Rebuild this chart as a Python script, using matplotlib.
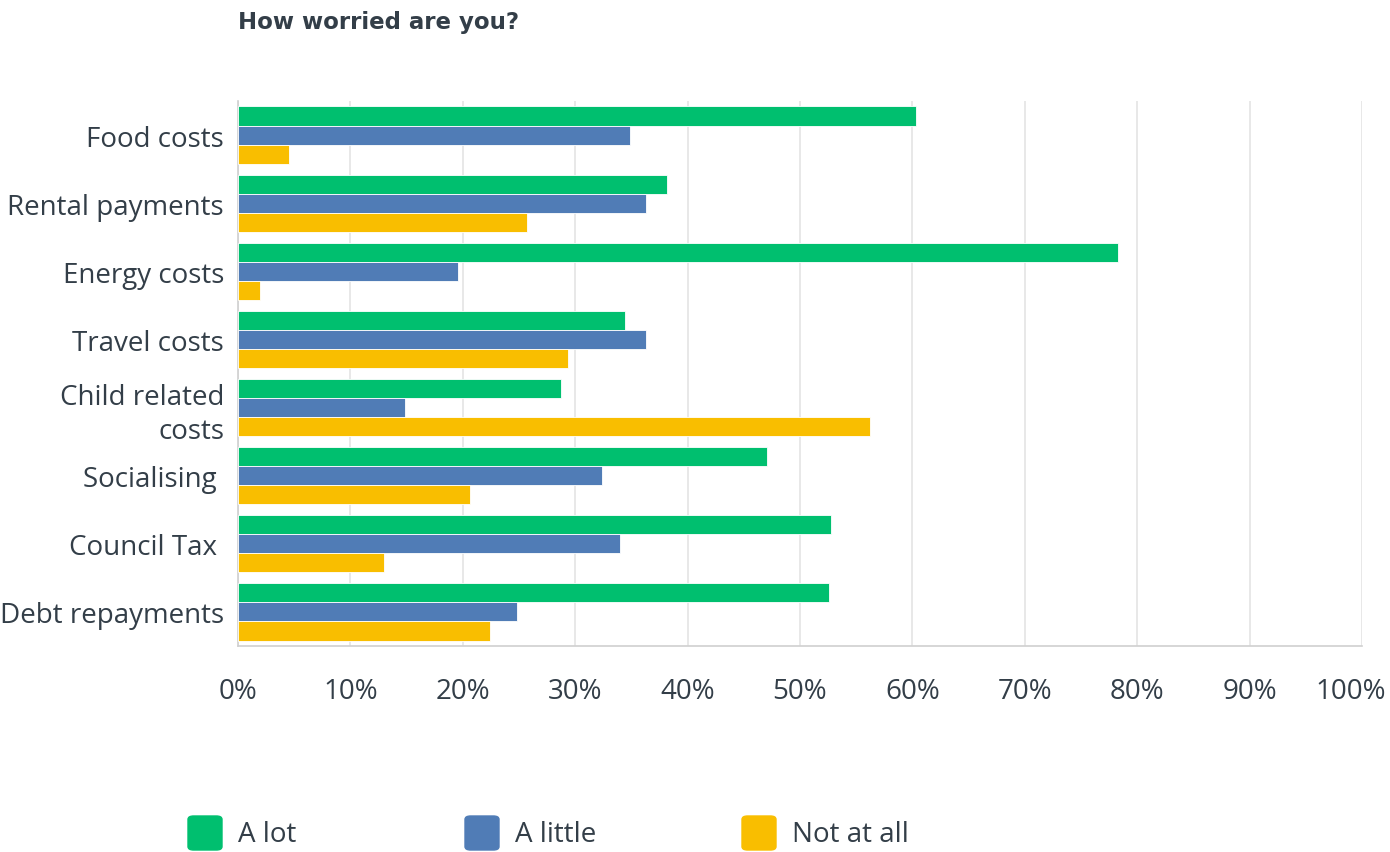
import numpy as np
import matplotlib.pyplot as plt
import matplotlib.transforms as mtransforms
from matplotlib.patches import FancyBboxPatch

plt.rcParams['font.family'] = ['Open Sans', 'DejaVu Sans']

categories = ['Food costs', 'Rental payments', 'Energy costs', 'Travel costs',
              'Child related\ncosts', 'Socialising ', 'Council Tax ', 'Debt repayments']
series_names = ['A lot', 'A little', 'Not at all']
a_lot = [60.3, 38.2, 78.3, 34.4, 28.7, 47.1, 52.8, 52.6]
a_little = [34.9, 36.3, 19.6, 36.3, 14.9, 32.4, 34.0, 24.8]
not_at_all = [4.5, 25.7, 2.0, 29.4, 56.2, 20.6, 13.0, 22.4]
colors = ['#00BF6F', '#507CB6', '#F9BE00']
ticks = np.arange(0, 101, 10)
tick_labels = [f'{t}%' for t in ticks]

text_col = '#333E48'
grid_col = '#E4E4E4'
fs = 20

fig = plt.figure(figsize=(13.9, 8.53), dpi=100)
ax = fig.add_axes([238 / 1390, 1 - 647 / 853, 1124 / 1390, 545 / 853])

y = np.arange(len(categories))
h = 0.28
for k, (vals, col) in enumerate(zip([a_lot, a_little, not_at_all], colors)):
    ax.barh(y + (k - 1) * h, vals, height=h, color=col, edgecolor='white',
            linewidth=0.6, zorder=3)

ax.set_xlim(0, 100)
ax.set_ylim(len(categories) - 0.5, -0.5)
ax.set_yticks(y)
ax.set_yticklabels(categories, fontsize=fs, color=text_col, linespacing=1.3)
ax.set_xticks(ticks)
ax.set_xticklabels(tick_labels, fontsize=fs, color=text_col)
ax.tick_params(axis='y', length=0, pad=10)
ax.tick_params(axis='x', length=0, pad=22)
ax.grid(axis='x', color=grid_col, linewidth=1.2, zorder=0)
for side in ['top', 'right']:
    ax.spines[side].set_visible(False)
for side in ['left', 'bottom']:
    ax.spines[side].set_color('#D0D0D0')
    ax.spines[side].set_linewidth(1.2)

# nudge the last x label so it stays inside the figure
last = ax.get_xticklabels()[-1]
last.set_transform(last.get_transform() +
                   mtransforms.ScaledTranslation(-0.11, 0, fig.dpi_scale_trans))

fig.text(238 / 1390, 1 - 22 / 853, 'How worried are you?', fontsize=16.5,
         fontweight='bold', family='DejaVu Sans', color=text_col,
         va='center', ha='left')

# legend swatches along the bottom
for i, (name, col) in enumerate(zip(series_names, colors)):
    x0 = (188 + i * 277) / 1390
    fig.patches.append(FancyBboxPatch((x0, 1 - 851 / 853), 34 / 1390, 34 / 853,
                                      boxstyle='round,pad=0,rounding_size=0.004',
                                      transform=fig.transFigure, color=col))
    fig.text(x0 + 50 / 1390, 1 - 835 / 853, name, fontsize=fs,
             color=text_col, va='center', ha='left')

fig.savefig('out.png', dpi=100)
